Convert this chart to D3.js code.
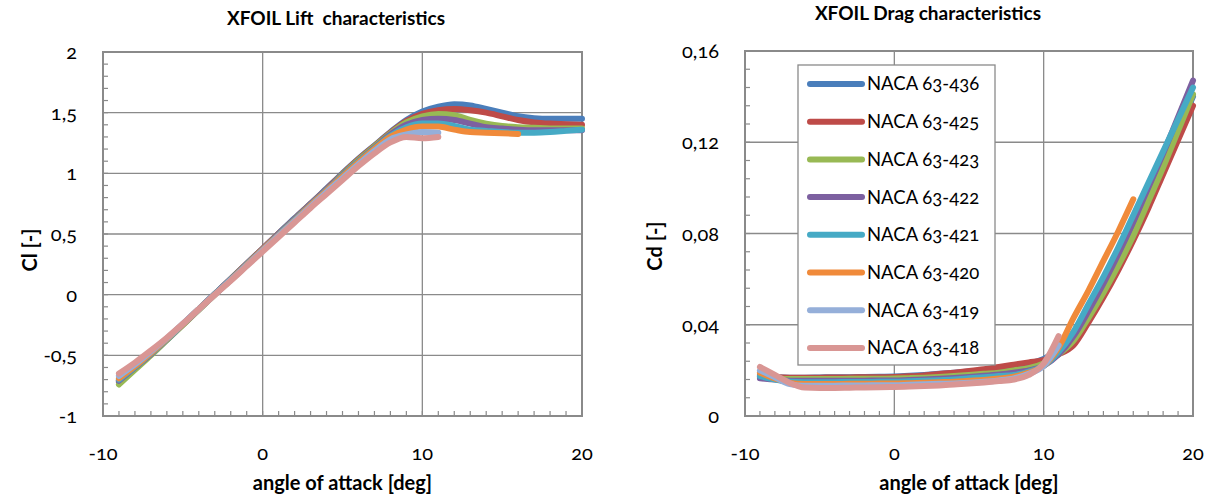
<!DOCTYPE html>
<html>
<head>
<meta charset="utf-8">
<script src="https://cdn.jsdelivr.net/npm/d3@7"></script>
<style>
  html, body { margin: 0; padding: 0; background: #fff; }
  svg { display: block; font-family: Lato, "Open Sans", sans-serif; font-variant-numeric: oldstyle-nums; }
  .tick-label { font-size: 20px; fill: #000; }
  .axis-title { font-size: 20px; font-weight: bold; fill: #000; }
  .chart-title { font-size: 19px; font-weight: bold; fill: #000; white-space: pre; }
  .legend-label { font-size: 18.5px; fill: #000; }
</style>
</head>
<body>
<svg id="chart" width="1215" height="499"></svg>
<script>
// ---- data ----
const airfoils = ["NACA 63-436", "NACA 63-425", "NACA 63-423", "NACA 63-422",
                  "NACA 63-421", "NACA 63-420", "NACA 63-419", "NACA 63-418"];
const seriesColors = ["#4A7EBB", "#BE4B48", "#98B954", "#7D60A0",
                      "#46AAC5", "#F08A3A", "#95AFD9", "#D99694"];

// angle of attack [deg], every series starts at -9
const angles = d3.range(-9, 21);

// lift coefficient per airfoil (series stop where XFOIL stopped converging)
const cl436 = [-0.72,-0.61,-0.49,-0.37,-0.245,-0.12,0.005,0.13,0.255,0.38,0.505,0.63,0.75,0.875,1.0,1.12,1.23,1.34,1.44,1.51,1.55,1.57,1.56,1.53,1.50,1.47,1.455,1.45,1.45,1.45];
const cl425 = [-0.71,-0.60,-0.49,-0.37,-0.245,-0.12,0.005,0.13,0.255,0.38,0.505,0.625,0.75,0.87,0.995,1.115,1.225,1.335,1.43,1.49,1.52,1.53,1.52,1.50,1.47,1.44,1.42,1.41,1.405,1.40];
const cl423 = [-0.74,-0.62,-0.50,-0.375,-0.25,-0.125,0,0.125,0.25,0.375,0.5,0.62,0.745,0.865,0.99,1.11,1.22,1.33,1.42,1.47,1.49,1.48,1.44,1.41,1.39,1.38,1.375,1.37,1.37,1.37];
const cl422 = [-0.71,-0.60,-0.49,-0.37,-0.245,-0.12,0.005,0.125,0.25,0.375,0.5,0.62,0.745,0.865,0.985,1.10,1.21,1.32,1.40,1.44,1.45,1.44,1.41,1.38,1.37,1.36,1.355,1.355,1.355,1.355];
const cl421 = [-0.70,-0.595,-0.485,-0.37,-0.245,-0.12,0.005,0.125,0.25,0.37,0.495,0.615,0.74,0.86,0.98,1.095,1.205,1.31,1.38,1.41,1.41,1.39,1.36,1.35,1.34,1.335,1.335,1.34,1.35,1.36];
const cl420 = [-0.69,-0.59,-0.48,-0.365,-0.245,-0.12,0.0,0.12,0.245,0.37,0.49,0.61,0.735,0.855,0.975,1.09,1.20,1.30,1.36,1.385,1.385,1.36,1.34,1.335,1.33,1.325];
const cl419 = [-0.67,-0.575,-0.47,-0.36,-0.24,-0.12,0.0,0.12,0.24,0.365,0.485,0.605,0.725,0.845,0.96,1.075,1.185,1.28,1.32,1.34,1.335];
const cl418 = [-0.65,-0.56,-0.46,-0.355,-0.24,-0.12,0.0,0.115,0.235,0.355,0.475,0.595,0.715,0.83,0.945,1.06,1.165,1.255,1.30,1.29,1.30];

// drag coefficient per airfoil
const cd436 = [0.018,0.017,0.0168,0.0168,0.0169,0.017,0.017,0.0171,0.0172,0.0173,0.0176,0.018,0.0185,0.019,0.0195,0.020,0.021,0.022,0.023,0.025,0.029,0.033,0.043,0.055,0.067,0.080,0.095,0.110,0.125,0.140];
const cd425 = [0.0175,0.017,0.0168,0.0168,0.0168,0.0169,0.0169,0.017,0.017,0.0171,0.0174,0.0178,0.0184,0.019,0.0197,0.0205,0.0215,0.0225,0.0235,0.0245,0.027,0.031,0.041,0.052,0.064,0.077,0.091,0.106,0.121,0.136];
const cd423 = [0.017,0.0165,0.0162,0.0162,0.0162,0.0162,0.0163,0.0163,0.0163,0.0164,0.0166,0.0168,0.0171,0.0175,0.018,0.0185,0.019,0.020,0.021,0.023,0.027,0.033,0.043,0.054,0.066,0.079,0.094,0.109,0.125,0.141];
const cd422 = [0.0165,0.016,0.0155,0.0155,0.0155,0.0155,0.0155,0.0155,0.0156,0.0156,0.0158,0.016,0.0163,0.0167,0.0171,0.0176,0.0182,0.019,0.020,0.022,0.027,0.035,0.046,0.058,0.071,0.085,0.100,0.115,0.131,0.147];
const cd421 = [0.0175,0.016,0.015,0.0148,0.0148,0.0148,0.0149,0.0149,0.015,0.015,0.0152,0.0154,0.0157,0.016,0.0165,0.017,0.0175,0.018,0.0195,0.022,0.028,0.037,0.049,0.061,0.074,0.088,0.102,0.116,0.130,0.144];
const cd420 = [0.019,0.0165,0.0145,0.014,0.014,0.014,0.0141,0.0141,0.0142,0.0142,0.0144,0.0146,0.0148,0.015,0.0154,0.0158,0.0164,0.0172,0.019,0.022,0.030,0.043,0.055,0.068,0.081,0.095];
const cd419 = [0.020,0.017,0.014,0.0133,0.0133,0.0133,0.0134,0.0134,0.0135,0.0135,0.0137,0.0139,0.0141,0.0143,0.0146,0.015,0.0156,0.0165,0.0185,0.022,0.031];
const cd418 = [0.0215,0.018,0.0145,0.0125,0.0123,0.0123,0.0124,0.0125,0.0126,0.0127,0.0129,0.0131,0.0134,0.0138,0.0142,0.0147,0.0153,0.016,0.018,0.023,0.035];

const liftSeries = [cl436, cl425, cl423, cl422, cl421, cl420, cl419, cl418];
const dragSeries = [cd436, cd425, cd423, cd422, cd421, cd420, cd419, cd418];

// axis ticks
const xTicks = [-10, 0, 10, 20];
const xTickLabels = ["-10", "0", "10", "20"];
const clTicks = [-1, -0.5, 0, 0.5, 1, 1.5, 2];
const clTickLabels = ["-1", "-0,5", "0", "0,5", "1", "1,5", "2"];
const cdTicks = [0, 0.04, 0.08, 0.12, 0.16];
const cdTickLabels = ["0", "0,04", "0,08", "0,12", "0,16"];

const svg = d3.select("#chart");
const gridColor = "#8a8a8a";

function drawPanel(opt) {
  const g = svg.append("g");
  const x = d3.scaleLinear().domain([-10, 20]).range([opt.left, opt.right]);
  const y = d3.scaleLinear().domain(opt.yDomain).range([opt.bottom, opt.top]);

  // major gridlines
  g.selectAll("line.vgrid").data(xTicks).join("line")
    .attr("x1", d => x(d)).attr("x2", d => x(d))
    .attr("y1", opt.top).attr("y2", opt.bottom)
    .attr("stroke", gridColor).attr("stroke-width", 1.3);
  g.selectAll("line.hgrid").data(opt.yTicks).join("line")
    .attr("x1", opt.left).attr("x2", opt.right)
    .attr("y1", d => y(d)).attr("y2", d => y(d))
    .attr("stroke", gridColor).attr("stroke-width", 1.3);

  // minor ticks (inside)
  g.selectAll("line.xminor").data(d3.range(-10, 21)).join("line")
    .attr("x1", d => x(d)).attr("x2", d => x(d))
    .attr("y1", opt.bottom).attr("y2", opt.bottom - 5)
    .attr("stroke", gridColor).attr("stroke-width", 1.2);
  g.selectAll("line.yminor").data(opt.yMinor).join("line")
    .attr("x1", opt.left).attr("x2", opt.left + 5)
    .attr("y1", d => y(d)).attr("y2", d => y(d))
    .attr("stroke", gridColor).attr("stroke-width", 1.2);

  // plot border
  g.append("rect")
    .attr("x", opt.left).attr("y", opt.top)
    .attr("width", opt.right - opt.left).attr("height", opt.bottom - opt.top)
    .attr("fill", "none").attr("stroke", gridColor).attr("stroke-width", 2);

  // series
  const line = d3.line()
    .x((d, i) => x(angles[i]))
    .y(d => y(d))
    .curve(d3.curveMonotoneX);
  g.selectAll("path.series").data(opt.series).join("path")
    .attr("class", "series")
    .attr("d", line)
    .attr("fill", "none")
    .attr("stroke", (d, i) => seriesColors[i])
    .attr("stroke-width", 6)
    .attr("stroke-linecap", "round")
    .attr("stroke-linejoin", "round");

  // tick labels
  g.selectAll("text.ylab").data(opt.yTicks).join("text")
    .attr("class", "tick-label")
    .attr("x", opt.left - 26).attr("y", d => y(d))
    .attr("dy", "0.35em").attr("text-anchor", "end")
    .text((d, i) => opt.yTickLabels[i]);
  g.selectAll("text.xlab").data(xTicks).join("text")
    .attr("class", "tick-label")
    .attr("x", d => x(d)).attr("y", opt.bottom + 44)
    .attr("text-anchor", "middle")
    .text((d, i) => xTickLabels[i]);

  // titles
  g.append("text").attr("class", "chart-title")
    .attr("x", opt.titleX).attr("y", opt.titleY)
    .attr("text-anchor", "middle").text(opt.title);
  g.append("text").attr("class", "axis-title")
    .attr("x", (opt.left + opt.right) / 2).attr("y", opt.bottom + 74)
    .attr("text-anchor", "middle").text("angle of attack [deg]");
  g.append("text").attr("class", "axis-title")
    .attr("transform", `translate(${opt.yTitleX},${opt.yTitleY}) rotate(-90)`)
    .attr("text-anchor", "middle").text(opt.yTitle);

  return { g, x, y };
}

drawPanel({
  left: 103, right: 582, top: 52, bottom: 416,
  yDomain: [-1, 2], yTicks: clTicks, yTickLabels: clTickLabels,
  yMinor: d3.range(-10, 21).map(d => d / 10),
  series: liftSeries,
  title: "XFOIL Lift  characteristics", titleX: 336, titleY: 25,
  yTitle: "Cl [-]", yTitleX: 37, yTitleY: 250
});

const drag = drawPanel({
  left: 745, right: 1193, top: 51, bottom: 416,
  yDomain: [0, 0.16], yTicks: cdTicks, yTickLabels: cdTickLabels,
  yMinor: d3.range(0, 21).map(d => d * 0.008),
  series: dragSeries,
  title: "XFOIL Drag characteristics", titleX: 928, titleY: 20,
  yTitle: "Cd [-]", yTitleX: 662, yTitleY: 246
});

// legend
const legend = drag.g.append("g");
legend.append("rect")
  .attr("x", 798).attr("y", 65).attr("width", 197).attr("height", 300)
  .attr("fill", "#fff").attr("stroke", gridColor).attr("stroke-width", 1.3);
const rows = legend.selectAll("g.row").data(airfoils).join("g")
  .attr("transform", (d, i) => `translate(0,${84 + i * 37.7})`);
rows.append("line")
  .attr("x1", 810).attr("x2", 862).attr("y1", 0).attr("y2", 0)
  .attr("stroke", (d, i) => seriesColors[i])
  .attr("stroke-width", 6).attr("stroke-linecap", "round");
rows.append("text").attr("class", "legend-label")
  .attr("x", 867).attr("dy", "0.35em").text(d => d);
</script>
</body>
</html>
